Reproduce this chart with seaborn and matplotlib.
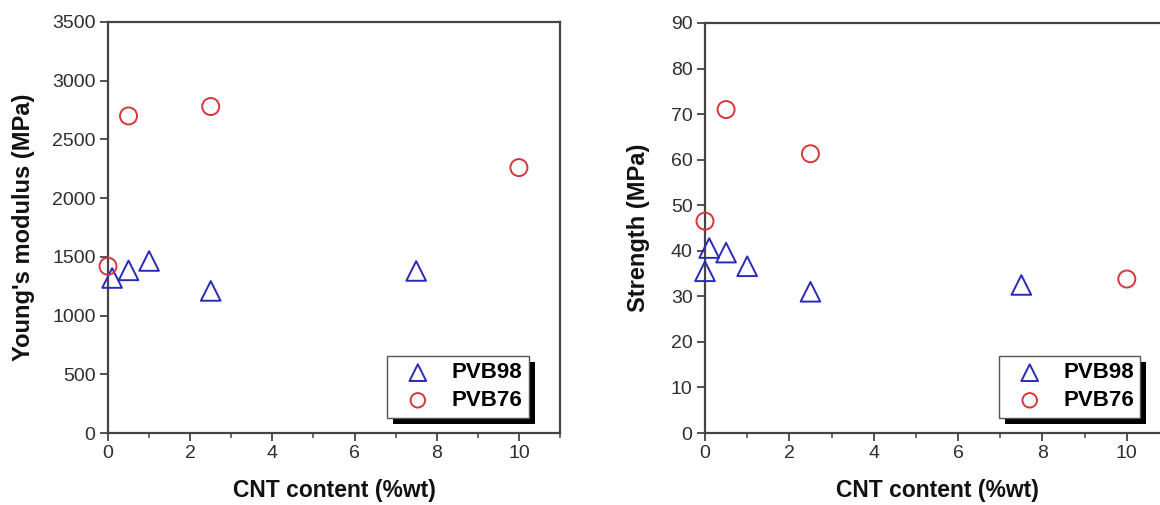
import matplotlib
matplotlib.use("Agg")
import matplotlib.pyplot as plt
from matplotlib.ticker import MultipleLocator
from matplotlib.patches import Rectangle
import seaborn as sns
import pandas as pd

# ---- data ----
mod_pvb98_x = [0.1, 0.5, 1.0, 2.5, 7.5]
mod_pvb98_y = [1320, 1385, 1465, 1210, 1380]
mod_pvb76_x = [0.0, 0.5, 2.5, 10.0]
mod_pvb76_y = [1420, 2700, 2780, 2260]

str_pvb98_x = [0.0, 0.1, 0.5, 1.0, 2.5, 7.5]
str_pvb98_y = [35.5, 40.6, 39.6, 36.6, 31.0, 32.5]
str_pvb76_x = [0.0, 0.5, 2.5, 10.0]
str_pvb76_y = [46.5, 71.0, 61.3, 33.8]

series_names = ["PVB98", "PVB76"]
x_label = "CNT content (%wt)"
y_labels = ["Young's modulus (MPa)", "Strength (MPa)"]
x_ticks = [0, 2, 4, 6, 8, 10]
mod_ticks = [0, 500, 1000, 1500, 2000, 2500, 3000, 3500]
str_ticks = [0, 10, 20, 30, 40, 50, 60, 70, 80, 90]

sns.set_style("ticks")
plt.rcParams["font.family"] = ["Liberation Sans", "DejaVu Sans"]

BLUE = "#2a2ab8"
RED = "#d8343c"
SPINE = "#444444"

fig = plt.figure(figsize=(11.6, 5.05), dpi=100)
ax1 = fig.add_axes([108 / 1160, 1 - 433 / 505, 452 / 1160, 411 / 505])
ax2 = fig.add_axes([705 / 1160, 1 - 433 / 505, 464 / 1160, 410 / 505])

panels = [
    (ax1, mod_pvb98_x, mod_pvb98_y, mod_pvb76_x, mod_pvb76_y, mod_ticks, y_labels[0], 12),
    (ax2, str_pvb98_x, str_pvb98_y, str_pvb76_x, str_pvb76_y, str_ticks, y_labels[1], 15),
]

legends = []
for ax, x98, y98, x76, y76, yt, ylab, lpad in panels:
    d98 = pd.DataFrame({"x": x98, "y": y98})
    d76 = pd.DataFrame({"x": x76, "y": y76})
    sns.scatterplot(data=d98, x="x", y="y", ax=ax, marker="^", s=200,
                    facecolor="none", edgecolor=BLUE, linewidth=1.4,
                    label=series_names[0], clip_on=False, zorder=3)
    sns.scatterplot(data=d76, x="x", y="y", ax=ax, marker="o", s=150,
                    facecolor="none", edgecolor=RED, linewidth=1.4,
                    label=series_names[1], clip_on=False, zorder=3)
    ax.set_xlim(0, 11)
    ax.set_ylim(yt[0], yt[-1])
    ax.set_xticks(x_ticks)
    ax.set_yticks(yt)
    ax.xaxis.set_minor_locator(MultipleLocator(1))
    ax.tick_params(axis="both", which="major", direction="out", length=6,
                   width=1.3, color=SPINE, labelsize=14, labelcolor="#2e2e2e", pad=3)
    ax.tick_params(axis="x", which="minor", direction="out", length=3.5,
                   width=1.1, color=SPINE)
    for sp in ax.spines.values():
        sp.set_visible(True)
        sp.set_linewidth(1.6)
        sp.set_color(SPINE)
    ax.set_xlabel(x_label, fontsize=16.5, fontweight="bold", labelpad=12,
                  color="#111111")
    ax.set_ylabel(ylab, fontsize=17, fontweight="bold", labelpad=lpad,
                  color="#111111")
    handles, labels = ax.get_legend_handles_labels()
    leg = ax.legend(handles, labels, loc="lower right",
                    bbox_to_anchor=(0.9305, 0.037) if ax is ax1 else (0.9385, 0.037),
                    frameon=True, fancybox=False, framealpha=1,
                    prop={"weight": "bold", "size": 16},
                    handlelength=2.2, handletextpad=0.4,
                    borderpad=0.3, labelspacing=0.3,
                    markerscale=0.85, borderaxespad=0,
                    labelcolor="#000000")
    leg.get_frame().set_edgecolor("#555555")
    leg.get_frame().set_linewidth(1.0)
    leg.set_zorder(6)
    legends.append((ax, leg))

# solid black drop shadow behind each legend box
fig.canvas.draw()
renderer = fig.canvas.get_renderer()
for ax, leg in legends:
    bb = leg.get_frame().get_window_extent(renderer)
    shadow = Rectangle((bb.x0 + 6, bb.y0 - 6), bb.width, bb.height,
                       transform=None, facecolor="black", edgecolor="none",
                       zorder=5.5, clip_on=False)
    ax.add_artist(shadow)

fig.savefig("out.png", dpi=100)
